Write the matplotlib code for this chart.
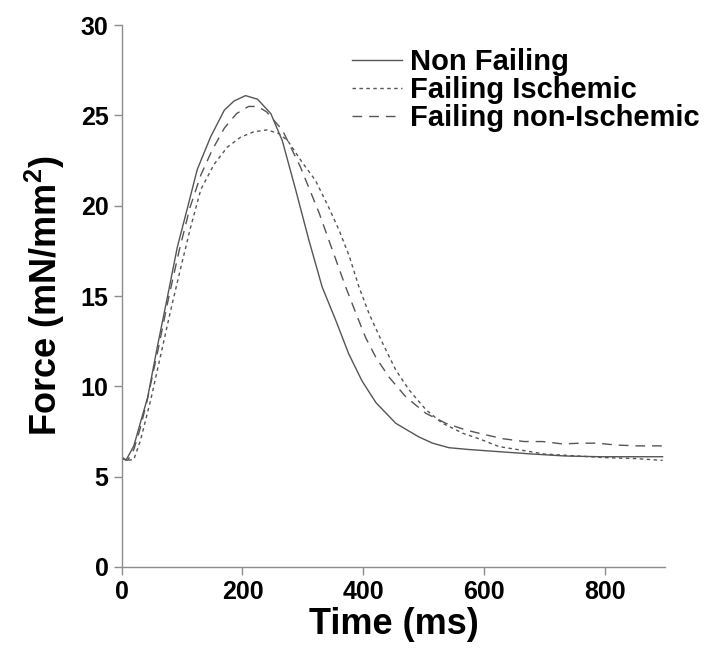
import matplotlib
matplotlib.use("Agg")
import matplotlib.pyplot as plt

# values (time in ms, force in mN/mm^2)
non_failing_t = [0, 7, 20, 31, 43, 59, 76, 92, 109, 125, 147, 170, 186, 205,
                 225, 247, 266, 288, 310, 332, 354, 376, 398, 421, 454, 492,
                 515, 542, 575, 625, 680, 735, 791, 896]
non_failing_f = [6.1, 5.9, 6.7, 8.0, 9.4, 12.2, 15.0, 17.7, 19.9, 22.0, 23.8,
                 25.3, 25.8, 26.1, 25.9, 25.1, 23.6, 20.9, 18.1, 15.5, 13.7,
                 11.8, 10.3, 9.1, 7.95, 7.2, 6.85, 6.6, 6.5, 6.38, 6.25, 6.14,
                 6.1, 6.1]

ischemic_t = [0, 10, 20, 31, 48, 65, 81, 98, 114, 131, 153, 175, 197, 219,
              241, 260, 275, 299, 321, 343, 360, 377, 393, 410, 432, 454, 476,
              504, 531, 565, 594, 625, 659, 700, 750, 800, 850, 896]
ischemic_f = [6.0, 5.9, 5.95, 7.0, 9.25, 11.8, 14.2, 16.6, 18.8, 20.9, 22.3,
              23.25, 23.8, 24.1, 24.2, 24.0, 23.6, 22.4, 21.4, 19.9, 18.65,
              17.2, 15.5, 14.0, 12.4, 10.9, 9.8, 8.7, 7.96, 7.4, 7.07, 6.66,
              6.48, 6.25, 6.15, 6.05, 6.0, 5.9]

non_ischemic_t = [0, 10, 20, 30, 42, 60, 77, 95, 113, 131, 150, 170, 190, 210,
                  225, 240, 258, 266, 296, 327, 343, 357, 371, 388, 404, 421,
                  443, 471, 504, 537, 570, 592, 631, 667, 697, 730, 761, 788,
                  818, 854, 896]
non_ischemic_f = [6.0, 5.9, 6.5, 7.6, 9.2, 12.0, 14.8, 17.5, 19.9, 21.7, 23.1,
                  24.3, 25.1, 25.5, 25.5, 25.2, 24.5, 24.2, 22.15, 19.6, 18.1,
                  16.8, 15.5, 14.04, 12.7, 11.6, 10.5, 9.4, 8.5, 7.95, 7.58,
                  7.4, 7.1, 6.94, 6.94, 6.81, 6.85, 6.85, 6.75, 6.7, 6.7]

labels = ["Non Failing", "Failing Ischemic", "Failing non-Ischemic"]
x_ticks = [0, 200, 400, 600, 800]
y_ticks = [0, 5, 10, 15, 20, 25, 30]


def main():
    plt.rcParams["font.family"] = ["Liberation Sans", "DejaVu Sans"]
    plt.rcParams["font.weight"] = "bold"
    plt.rcParams["mathtext.fontset"] = "custom"
    plt.rcParams["mathtext.rm"] = "Liberation Sans:bold"
    plt.rcParams["mathtext.bf"] = "Liberation Sans:bold"

    fig = plt.figure(figsize=(7.12, 6.63), dpi=100)
    ax = fig.add_axes([0.171, 0.145, 0.763, 0.817])

    line_color = "#555555"
    ax.plot(non_failing_t, non_failing_f, color=line_color, lw=1.0,
            linestyle="-", label=labels[0])
    ax.plot(ischemic_t, ischemic_f, color=line_color, lw=1.0,
            linestyle=(0, (2.5, 2.5)), label=labels[1])
    ax.plot(non_ischemic_t, non_ischemic_f, color=line_color, lw=1.0,
            linestyle=(0, (7, 5)), label=labels[2])

    ax.set_xlim(0, 900)
    ax.set_ylim(0, 30)
    ax.set_xticks(x_ticks)
    ax.set_yticks(y_ticks)

    for side in ["top", "right"]:
        ax.spines[side].set_visible(False)
    for side in ["left", "bottom"]:
        ax.spines[side].set_color("#8c8c8c")
        ax.spines[side].set_linewidth(1.0)

    ax.tick_params(axis="both", direction="out", length=6, width=1.0,
                   color="#8c8c8c", labelsize=18)
    for lab in ax.get_xticklabels() + ax.get_yticklabels():
        lab.set_fontweight("bold")

    ax.set_xlabel("Time (ms)", fontsize=26, fontweight="bold", labelpad=2)
    ax.set_ylabel(r"Force (mN/mm$^{\mathbf{2}}$)", fontsize=26,
                  fontweight="bold", labelpad=10)

    leg = fig.legend(loc="upper left", bbox_to_anchor=(0.478, 0.945),
                     frameon=False, fontsize=21, handlelength=1.7,
                     handletextpad=0.3, labelspacing=0.0,
                     borderaxespad=0)
    for text in leg.get_texts():
        text.set_fontweight("bold")

    fig.savefig("out.png", dpi=100)


if __name__ == "__main__":
    main()
